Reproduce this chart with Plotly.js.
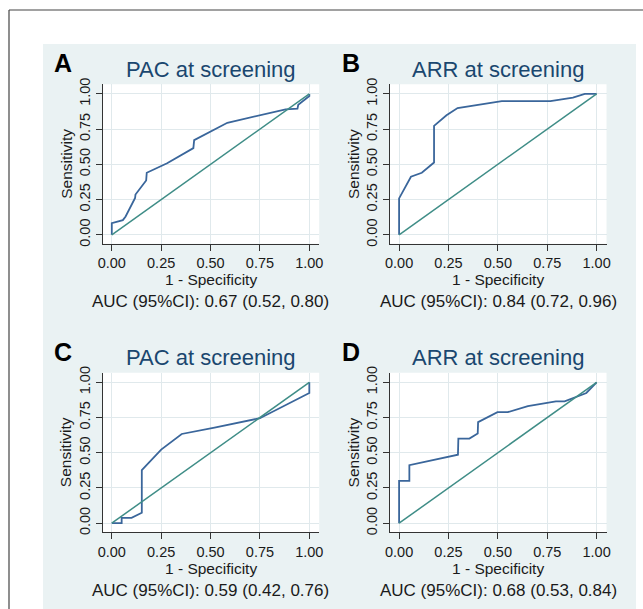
<!DOCTYPE html>
<html>
<head>
<meta charset="utf-8">
<script src="https://cdn.plot.ly/plotly-3.0.1.min.js"></script>
<style>html,body{margin:0;padding:0;background:#fff;}#chart{width:643px;height:609px;}</style>
</head>
<body>
<div id="chart"></div>
<script>
// ---- data ----
const tickVals = [0, 0.25, 0.5, 0.75, 1];
const tickText = ['0.00', '0.25', '0.50', '0.75', '1.00'];
const panelLetters = ['A', 'B', 'C', 'D'];
const panelTitles = ['PAC at screening', 'ARR at screening', 'PAC at screening', 'ARR at screening'];
const aucLabels = ['AUC (95%CI): 0.67 (0.52, 0.80)', 'AUC (95%CI): 0.84 (0.72, 0.96)',
                   'AUC (95%CI): 0.59 (0.42, 0.76)', 'AUC (95%CI): 0.68 (0.53, 0.84)'];
const xAxisTitle = '1 - Specificity';
const yAxisTitle = 'Sensitivity';

const rocA_x = [0, 0, 0.056, 0.07, 0.118, 0.12, 0.174, 0.177, 0.28, 0.413, 0.417, 0.585, 0.88, 0.94, 0.944, 1, 1];
const rocA_y = [0, 0.083, 0.104, 0.13, 0.262, 0.286, 0.385, 0.44, 0.508, 0.615, 0.672, 0.795, 0.89, 0.895, 0.922, 0.985, 1];

const rocB_x = [0, 0, 0.06, 0.115, 0.177, 0.177, 0.24, 0.296, 0.52, 0.766, 0.88, 0.94, 1];
const rocB_y = [0, 0.258, 0.412, 0.44, 0.513, 0.773, 0.848, 0.899, 0.948, 0.948, 0.973, 1, 1];

const rocC_x = [0, 0.05, 0.05, 0.1, 0.152, 0.152, 0.25, 0.354, 0.52, 0.75, 1, 1];
const rocC_y = [0, 0, 0.038, 0.038, 0.074, 0.376, 0.522, 0.633, 0.678, 0.745, 0.924, 1];

const rocD_x = [0, 0, 0.052, 0.052, 0.298, 0.3, 0.356, 0.398, 0.4, 0.498, 0.55, 0.652, 0.794, 0.838, 0.948, 1];
const rocD_y = [0, 0.3, 0.3, 0.412, 0.486, 0.6, 0.6, 0.636, 0.717, 0.788, 0.788, 0.831, 0.864, 0.864, 0.924, 1];

const refX = [0, 1];
const refY = [0, 1];

const rocX = [rocA_x, rocB_x, rocC_x, rocD_x];
const rocY = [rocA_y, rocB_y, rocC_y, rocD_y];

// ---- layout helpers ----
const W = 643, H = 609;
const FONT = 'Liberation Sans, Arial, Helvetica, sans-serif';
const PW = 216.5, PH = 159.5;
const geom = [{l: 102.7, t: 84.3}, {l: 390, t: 84.3}, {l: 102.7, t: 372.7}, {l: 390, t: 372.7}];
const px = v => v / W;
const py = v => 1 - v / H;

const ROC_COLOR = '#3a669b';
const REF_COLOR = '#3f8d87';
const TITLE_COLOR = '#1a476f';
const AXIS_COLOR = '#333333';
const GRID_COLOR = '#e0e9ec';
const BG_COLOR = '#eaf2f3';

const traces = [];
const layout = {
  width: W, height: H,
  margin: {l: 0, r: 0, t: 0, b: 0, pad: 0},
  paper_bgcolor: '#ffffff',
  plot_bgcolor: 'rgba(0,0,0,0)',
  showlegend: false,
  font: {family: FONT, color: '#1a1a1a'},
  shapes: [],
  annotations: []
};

// background region and outer frame
layout.shapes.push({type: 'rect', xref: 'paper', yref: 'paper', x0: px(43), x1: px(636), y0: 0, y1: py(44),
  fillcolor: BG_COLOR, line: {width: 0}, layer: 'below'});
layout.shapes.push({type: 'line', xref: 'paper', yref: 'paper', x0: px(9), x1: px(9), y0: 0, y1: py(10),
  line: {color: '#444', width: 1.2}, layer: 'below'});
layout.shapes.push({type: 'line', xref: 'paper', yref: 'paper', x0: px(9), x1: 1, y0: py(10), y1: py(10),
  line: {color: '#444', width: 1.2}, layer: 'below'});

for (let i = 0; i < 4; i++) {
  const n = i === 0 ? '' : String(i + 1);
  const g = geom[i];
  const cx = g.l + PW / 2;
  const cy = g.t + PH / 2;
  const bottom = g.t + PH;

  traces.push({x: rocX[i], y: rocY[i], type: 'scatter', mode: 'lines', xaxis: 'x' + n, yaxis: 'y' + n,
    line: {color: ROC_COLOR, width: 1.8}, hoverinfo: 'skip'});
  traces.push({x: refX, y: refY, type: 'scatter', mode: 'lines', xaxis: 'x' + n, yaxis: 'y' + n,
    line: {color: REF_COLOR, width: 1.5}, hoverinfo: 'skip'});

  // white plot region
  layout.shapes.push({type: 'rect', xref: 'paper', yref: 'paper', x0: px(g.l), x1: px(g.l + PW),
    y0: py(bottom), y1: py(g.t), fillcolor: '#ffffff', line: {width: 0}, layer: 'below'});

  layout['xaxis' + n] = {
    domain: [px(g.l), px(g.l + PW)], anchor: 'y' + n, range: [-0.046, 1.05],
    tickmode: 'array', tickvals: tickVals, ticktext: tickText,
    showgrid: true, gridcolor: GRID_COLOR, gridwidth: 1, zeroline: false,
    showline: true, linecolor: AXIS_COLOR, linewidth: 1,
    ticks: 'outside', ticklen: 6, tickcolor: AXIS_COLOR, tickwidth: 1,
    tickfont: {family: FONT, size: 14.5, color: '#1a1a1a'}, fixedrange: true
  };
  layout['yaxis' + n] = {
    domain: [py(bottom), py(g.t)], anchor: 'x' + n, range: [-0.064, 1.068],
    tickmode: 'array', tickvals: tickVals, ticktext: tickText, tickangle: -90,
    showgrid: true, gridcolor: GRID_COLOR, gridwidth: 1, zeroline: false,
    showline: true, linecolor: AXIS_COLOR, linewidth: 1,
    ticks: 'outside', ticklen: 6, tickcolor: AXIS_COLOR, tickwidth: 1,
    tickfont: {family: FONT, size: 14.5, color: '#1a1a1a'}, fixedrange: true
  };

  const ann = (text, x, y, size, opts) => Object.assign({
    text: text, xref: 'paper', yref: 'paper', x: px(x), y: py(y),
    xanchor: 'center', yanchor: 'middle', showarrow: false,
    font: {family: FONT, size: size, color: '#1a1a1a'}
  }, opts || {});

  layout.annotations.push(ann('<b>' + panelLetters[i] + '</b>', g.l - 39.5, g.t - 21, 25,
    {font: {family: FONT, size: 25, color: '#000000'}}));
  layout.annotations.push(ann(panelTitles[i], cx, g.t - 15, 22,
    {font: {family: FONT, size: 22, color: TITLE_COLOR}}));
  layout.annotations.push(ann(xAxisTitle, cx, bottom + 36, 15.5));
  layout.annotations.push(ann(aucLabels[i], cx, bottom + 58, 17));
  layout.annotations.push(ann(yAxisTitle, g.l - 37, cy, 15.5, {textangle: -90}));
}

Plotly.newPlot('chart', traces, layout, {staticPlot: true, displayModeBar: false});
</script>
</body>
</html>
